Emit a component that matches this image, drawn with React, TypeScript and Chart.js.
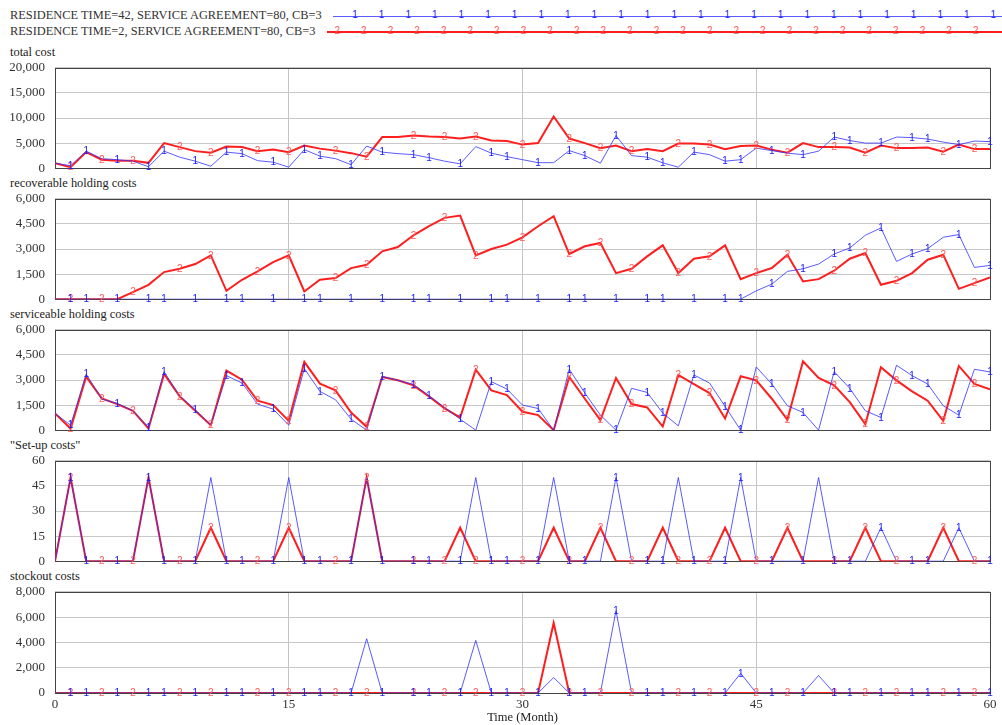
import React, { useEffect, useRef } from "react";
import { Chart, registerables } from "chart.js";
Chart.register(...registerables);

// ---------- data ----------
const months = [...Array(61).keys()]; // Time (Month) 0..60

const legendBlue = "RESIDENCE TIME=42, SERVICE AGREEMENT=80, CB=3";
const legendRed = "RESIDENCE TIME=2, SERVICE AGREEMENT=80, CB=3";

const panelTitles = ["total cost", "recoverable holding costs", "serviceable holding costs", "\"Set-up costs\"", "stockout costs"];
const panelMax = [20000, 6000, 6000, 60, 8000];
const panelStep = [5000, 1500, 1500, 15, 2000];
const xTicks = [0, 15, 30, 45, 60];
const xTitle = "Time (Month)";

const totalBlue = [1000, 500, 3400, 1900, 1700, 1400, 300, 3400, 2200, 1400,
  400, 3200, 2900, 1500, 1200, 200, 3700, 2400, 1900, 700,
  4400, 3200, 2900, 2700, 2100, 1400, 870, 4300, 3000, 2300,
  1700, 1100, 1100, 3500, 2500, 1000, 6500, 2500, 2200, 1070,
  200, 3200, 2700, 1400, 1700, 4000, 3500, 3000, 2700, 3400,
  6200, 5500, 5000, 5000, 6200, 6100, 5800, 5200, 4700, 5400, 5300];
const totalRed = [1000, 200, 3200, 1700, 1500, 1500, 1070, 5000, 4200, 3400,
  3100, 4300, 4200, 3400, 3700, 3200, 4500, 3900, 3500, 3000,
  2300, 6200, 6200, 6500, 6300, 6200, 5900, 6300, 5500, 5400,
  4700, 5000, 10300, 5900, 5000, 4000, 4500, 3400, 3800, 3400,
  4900, 4900, 4700, 3800, 4400, 4500, 3700, 3100, 5000, 4200,
  4200, 4100, 3100, 4500, 4000, 4000, 4100, 3300, 4700, 3800, 3800];

const recBlue = [0, 0, 0, 0, 0, 0, 0, 0, 0, 0,
  0, 0, 0, 0, 0, 0, 0, 0, 0, 0,
  0, 0, 0, 0, 0, 0, 0, 0, 0, 0,
  0, 0, 0, 0, 0, 0, 0, 0, 0, 0,
  0, 0, 0, 0, 0, 500, 900, 1660, 1820, 2100,
  2700, 3060, 3820, 4260, 2260, 2700, 3020, 3700, 3860, 1900, 2020];
const recRed = [0, 0, 0, 0, 0, 420, 860, 1620, 1820, 2100,
  2620, 500, 1160, 1660, 2220, 2620, 460, 1160, 1260, 1860,
  2060, 2860, 3120, 3820, 4360, 4860, 5000, 2620, 3000, 3260,
  3700, 4360, 4960, 2700, 3160, 3360, 1560, 1820, 2560, 3220,
  1560, 2420, 2560, 3220, 1200, 1560, 1860, 2660, 1060, 1200,
  1700, 2420, 2760, 860, 1100, 1560, 2360, 2660, 620, 960, 1300];

const servBlue = [1000, 300, 3360, 1860, 1600, 1160, 160, 3500, 2060, 1220,
  300, 3260, 2820, 1560, 1260, 300, 3680, 2320, 1820, 660,
  0, 3220, 2980, 2740, 2060, 1360, 660, 0, 2900, 2460,
  1500, 1300, 0, 3640, 2220, 900, 0, 2500, 2260, 1020,
  260, 3300, 2820, 1420, 0, 3780, 2760, 1460, 1060, 0,
  3500, 2500, 1160, 760, 3880, 3260, 2760, 1460, 900, 3640, 3480];
const servRed = [1000, 100, 3200, 1900, 1560, 1160, 100, 3360, 2020, 1160,
  300, 3560, 3020, 1760, 1500, 560, 4080, 2780, 2380, 1060,
  200, 3180, 2980, 2680, 2020, 1300, 760, 3620, 2380, 2100,
  1100, 900, 0, 3180, 1880, 600, 3120, 1560, 1360, 220,
  3300, 2760, 2220, 700, 3220, 2980, 1880, 620, 4120, 3120,
  2680, 1680, 360, 3760, 2980, 2320, 1760, 560, 3840, 2760, 2440];

const setupBlue = [0, 50, 0, 0, 0, 0, 50, 0, 0, 0,
  50, 0, 0, 0, 0, 50, 0, 0, 0, 0,
  50, 0, 0, 0, 0, 0, 0, 50, 0, 0,
  0, 0, 50, 0, 0, 0, 50, 0, 0, 0,
  50, 0, 0, 0, 50, 0, 0, 0, 0, 50,
  0, 0, 0, 20, 0, 0, 0, 0, 20, 0, 0];
const setupRed = [0, 50, 0, 0, 0, 0, 50, 0, 0, 0,
  20, 0, 0, 0, 0, 20, 0, 0, 0, 0,
  50, 0, 0, 0, 0, 0, 20, 0, 0, 0,
  0, 0, 20, 0, 0, 20, 0, 0, 0, 20,
  0, 0, 0, 20, 0, 0, 0, 20, 0, 0,
  0, 0, 20, 0, 0, 0, 0, 20, 0, 0, 0];

const stockBlue = [0, 0, 0, 0, 0, 0, 0, 0, 0, 0,
  0, 0, 0, 0, 0, 0, 0, 0, 0, 0,
  4290, 0, 0, 0, 0, 0, 0, 4160, 0, 0,
  0, 0, 1220, 0, 0, 0, 6500, 0, 0, 0,
  0, 0, 0, 0, 1560, 0, 0, 0, 0, 1380,
  0, 0, 0, 0, 0, 0, 0, 0, 0, 0, 0];
const stockRed = [0, 0, 0, 0, 0, 0, 0, 0, 0, 0,
  0, 0, 0, 0, 0, 0, 0, 0, 0, 0,
  0, 0, 0, 0, 0, 0, 0, 0, 0, 0,
  0, 0, 5540, 0, 0, 0, 0, 0, 0, 0,
  0, 0, 0, 0, 0, 0, 0, 0, 0, 0,
  0, 0, 0, 0, 0, 0, 0, 0, 0, 0, 0];

// months carrying the "1" / "2" line markers
const blueMarks = [1, 2, 4, 6, 7, 9, 11, 12, 14, 16, 17, 19, 21, 23, 24, 26, 28, 29, 31, 33, 34, 36, 38, 39, 41, 43, 44, 46, 48, 50, 51, 53, 55, 56, 58, 60];
const redMarks = [1, 3, 5, 8, 10, 13, 15, 18, 20, 23, 25, 27, 30, 33, 35, 37, 40, 42, 45, 47, 50, 52, 54, 57, 59];

const blueSeries = [totalBlue, recBlue, servBlue, setupBlue, stockBlue];
const redSeries = [totalRed, recRed, servRed, setupRed, stockRed];

// ---------- styling ----------
const BLUE = "rgba(50,50,255,0.8)";
const RED = "rgb(255,30,30)";
const BLUE_MARK = "#1a1aff";
const RED_MARK = "#ff5a5a";
const SERIF = '"Liberation Serif", "Times New Roman", serif';
const PLOT_LEFT = 55;
const PLOT_RIGHT = 990;
const panelTop = [68, 199, 330, 461, 592];
const panelH = [100, 100, 100, 100, 101];

const markerPlugin = {
  id: "markers",
  afterDatasetsDraw(chart: any) {
    const ctx = chart.ctx;
    ctx.save();
    ctx.font = '10px "Liberation Sans", Arial, sans-serif';
    ctx.textAlign = "center";
    ctx.textBaseline = "middle";
    for (let d = chart.data.datasets.length - 1; d >= 0; d--) {
      const ds: any = chart.data.datasets[d];
      const meta = chart.getDatasetMeta(d);
      ctx.fillStyle = ds.markColor;
      for (const m of ds.marks) {
        const el = meta.data[m];
        if (el) ctx.fillText(ds.markText, el.x, el.y + 0.5);
      }
    }
    ctx.restore();
  },
};

const framePlugin = {
  id: "frame",
  beforeDatasetsDraw(chart: any) {
    const { ctx, chartArea: a } = chart;
    ctx.save();
    ctx.strokeStyle = "#444";
    ctx.lineWidth = 1;
    ctx.strokeRect(Math.round(a.left) + 0.5, Math.round(a.top) + 0.5, Math.round(a.right - a.left), Math.round(a.bottom - a.top));
    ctx.restore();
  },
};

function Panel({ idx }: { idx: number }) {
  const ref = useRef<HTMLCanvasElement>(null);
  const showX = idx === 4;
  const padBottom = showX ? 0 : 6;
  const xh = showX ? 32 : 0;

  useEffect(() => {
    const canvas = ref.current as HTMLCanvasElement;
    const blue = blueSeries[idx];
    const red = redSeries[idx];
    const chart = new Chart(canvas, {
      type: "line",
      data: {
        datasets: [
          {
            label: legendBlue,
            data: months.map((m, i) => ({ x: m, y: blue[i] })),
            borderColor: BLUE,
            borderWidth: 1,
            pointRadius: 0,
            tension: 0,
            fill: false,
            marks: blueMarks,
            markText: "1",
            markColor: BLUE_MARK,
          } as any,
          {
            label: legendRed,
            data: months.map((m, i) => ({ x: m, y: red[i] })),
            borderColor: RED,
            borderWidth: 2,
            pointRadius: 0,
            tension: 0,
            fill: false,
            marks: redMarks,
            markText: "2",
            markColor: RED_MARK,
          } as any,
        ],
      },
      options: {
        animation: false,
        responsive: false,
        maintainAspectRatio: false,
        devicePixelRatio: 1,
        layout: { padding: { top: 0, right: 1002 - PLOT_RIGHT, left: 0, bottom: padBottom } },
        plugins: { legend: { display: false }, tooltip: { enabled: false }, title: { display: false } },
        scales: {
          x: {
            type: "linear",
            min: 0,
            max: 60,
            afterBuildTicks: (s: any) => { s.ticks = xTicks.map((v) => ({ value: v })); },
            ticks: { display: showX, padding: 4, color: "#333", font: { family: SERIF, size: 13 }, maxRotation: 0 },
            grid: { color: "#c4c4c4", lineWidth: 1, drawTicks: false },
            border: { display: false },
            title: { display: showX, text: xTitle, color: "#222", font: { family: SERIF, size: 12.5 }, padding: { top: 0, bottom: 0 } },
            afterFit: (s: any) => { s.height = xh; },
          },
          y: {
            min: 0,
            max: panelMax[idx],
            ticks: {
              stepSize: panelStep[idx],
              padding: 10,
              color: "#333",
              font: { family: SERIF, size: 13 },
              callback: (v: any) => Number(v).toLocaleString("en-US"),
            },
            grid: { color: "#c8c8c8", lineWidth: 1, drawTicks: false },
            border: { display: false },
            afterFit: (s: any) => { s.width = PLOT_LEFT; },
          },
        },
      } as any,
      plugins: [framePlugin, markerPlugin],
    });
    // fit the canvas so that the plot area lands exactly on the panel box
    for (let k = 0; k < 4; k++) {
      const a = chart.chartArea;
      const extraTop = a.top;
      const extraBottom = chart.height - a.bottom;
      const want = panelH[idx];
      const newH = Math.round(extraTop + want + extraBottom);
      if (newH === chart.height) break;
      chart.resize(1002, newH);
    }
    const a = chart.chartArea;
    canvas.style.top = `${panelTop[idx] - a.top}px`;
    canvas.style.height = `${chart.height}px`;
    canvas.style.width = "1002px";
    return () => chart.destroy();
  }, [idx]);

  return (
    <canvas
      ref={ref}
      width={1002}
      height={150}
      style={{ position: "absolute", left: 0, top: panelTop[idx], width: 1002, height: 150 }}
    />
  );
}

function LegendRow({ y, text, color, markColor, mark, lineLeft, lineW, firstMark }: any) {
  const marks: number[] = [];
  for (let x = firstMark; x < 1000; x += 26.6) marks.push(x);
  return (
    <>
      <div style={{ position: "absolute", left: 10, top: y - 8, height: 16, lineHeight: "16px", font: `12.4px ${SERIF}`, color: "#333", whiteSpace: "nowrap" }}>{text}</div>
      <div style={{ position: "absolute", left: lineLeft, top: y - lineW / 2, width: 1002 - lineLeft, height: lineW, background: color }} />
      {marks.map((x, i) => (
        <span key={i} style={{ position: "absolute", left: x - 5, top: y - 7, width: 10, textAlign: "center", lineHeight: "14px", font: '10px "Liberation Sans", Arial, sans-serif', color: markColor }}>{mark}</span>
      ))}
    </>
  );
}

export default function App() {
  return (
    <div style={{ position: "absolute", left: 0, top: 0, width: 1002, height: 725, background: "#fff", overflow: "hidden" }}>
      <LegendRow y={16} text={legendBlue} color={BLUE} markColor={BLUE_MARK} mark="1" lineLeft={333} lineW={1} firstMark={355} />
      <LegendRow y={31.5} text={legendRed} color={RED} markColor={RED_MARK} mark="2" lineLeft={327} lineW={2} firstMark={337.3} />
      {panelTitles.map((t, i) => (
        <div key={t} style={{ position: "absolute", left: 10, top: panelTop[i] - 23, height: 16, lineHeight: "16px", font: `12.4px ${SERIF}`, color: "#222", whiteSpace: "nowrap" }}>{t}</div>
      ))}
      {panelTitles.map((t, i) => (
        <Panel key={i} idx={i} />
      ))}
    </div>
  );
}
